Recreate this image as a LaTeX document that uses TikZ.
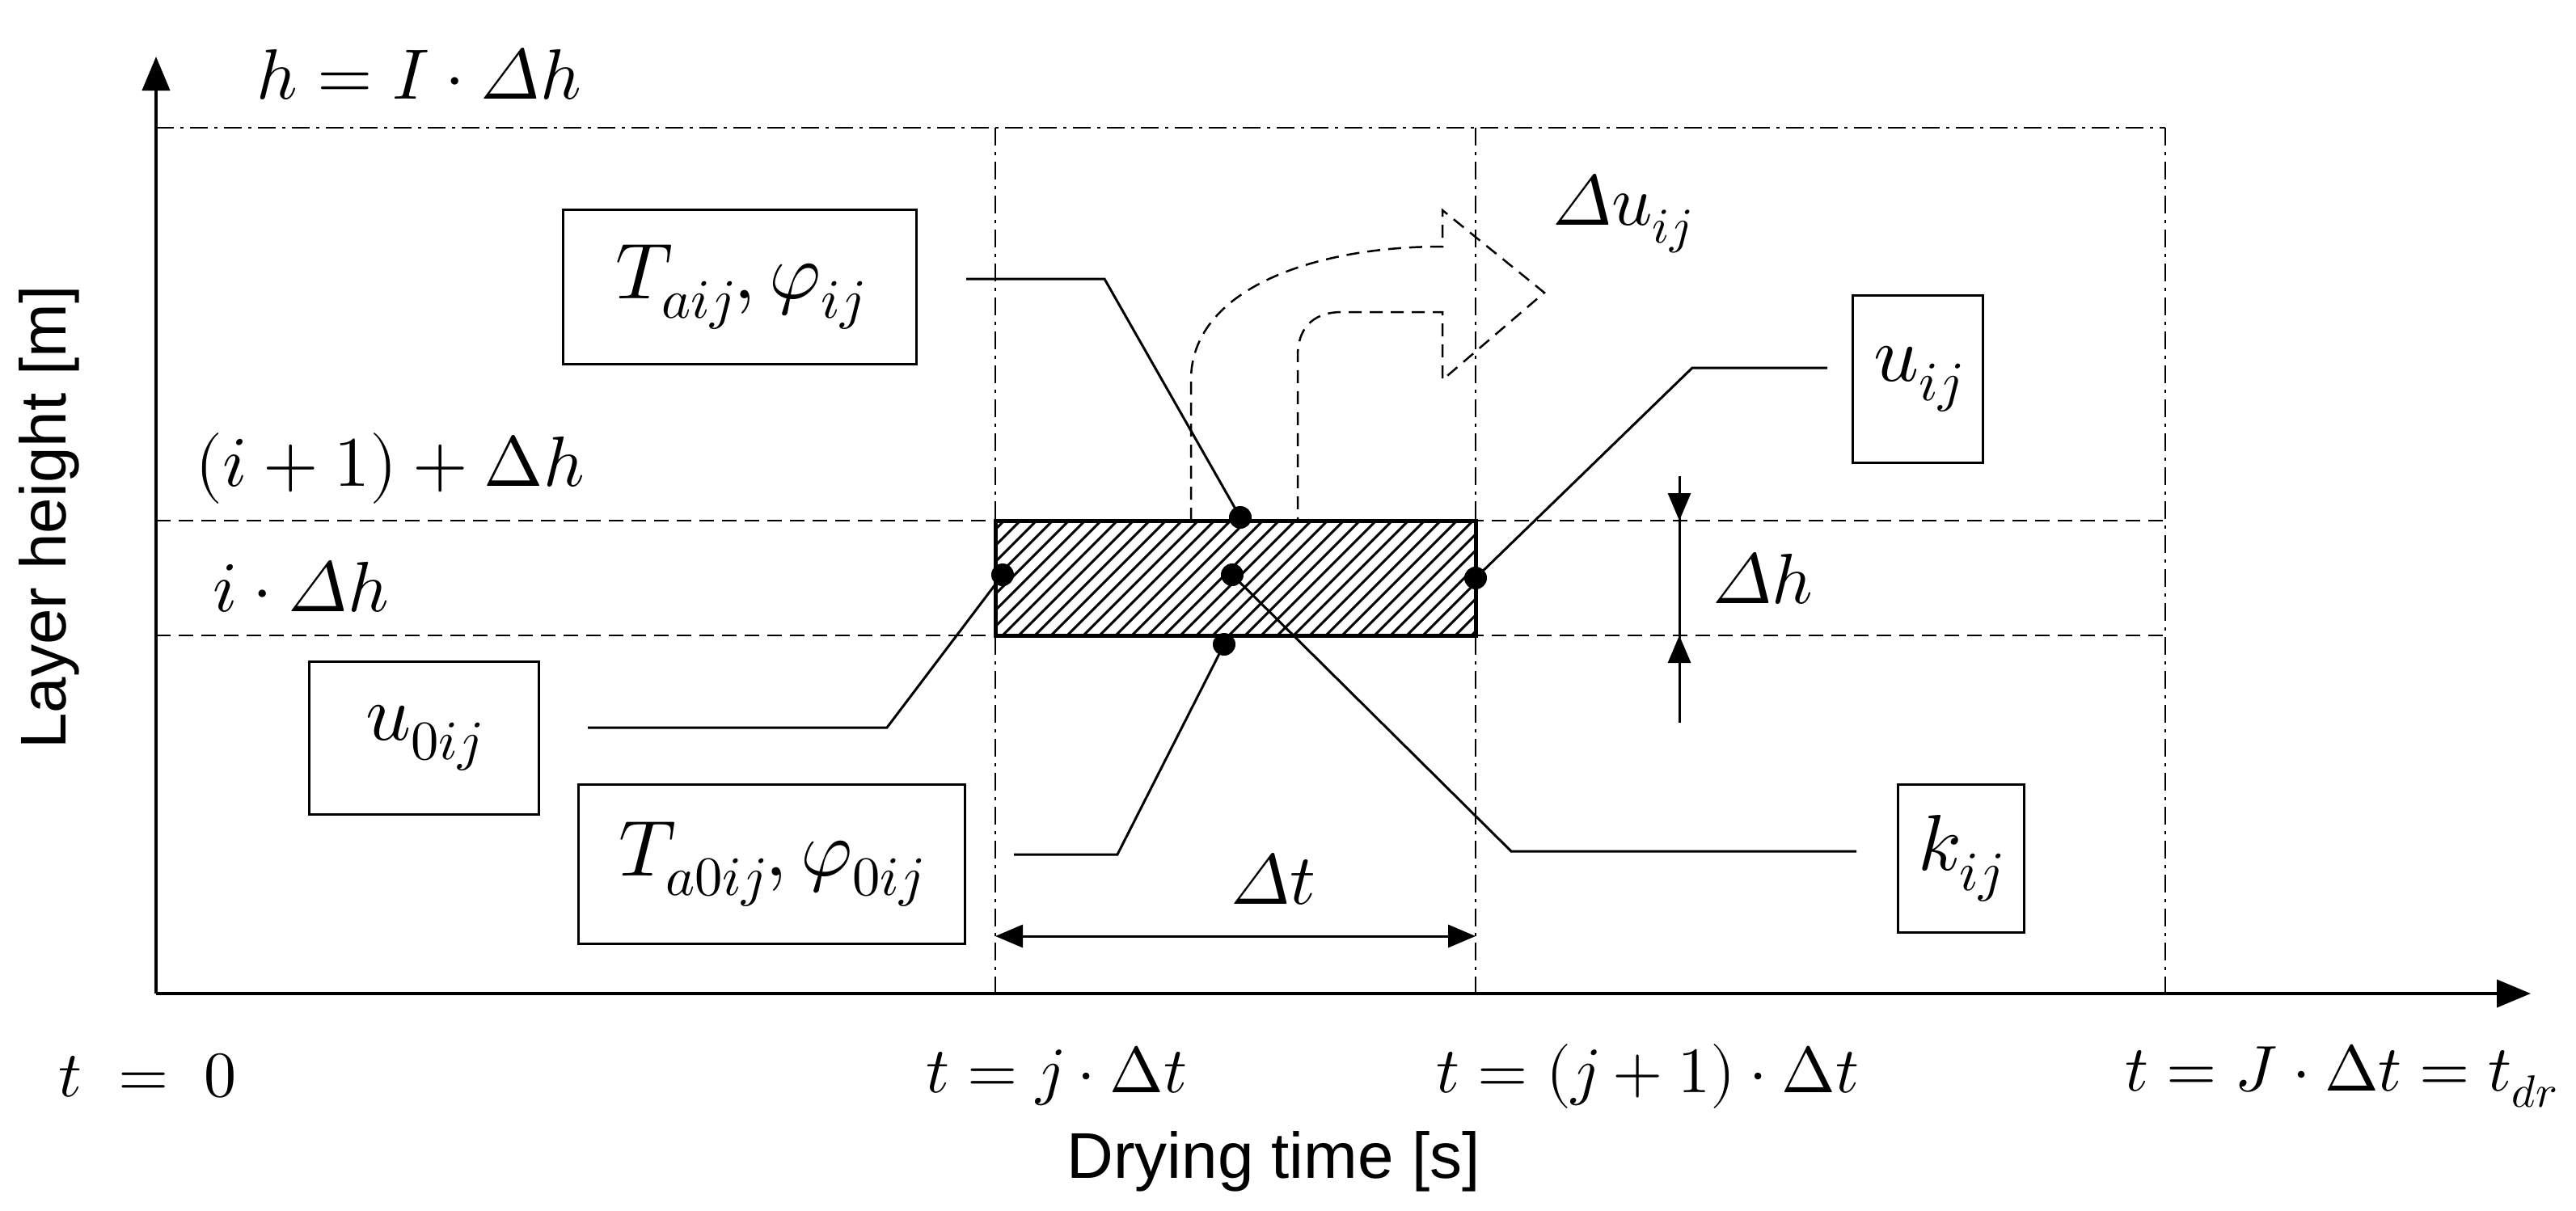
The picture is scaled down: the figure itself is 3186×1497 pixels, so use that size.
\documentclass[tikz,border=0pt]{standalone}
\usepackage{fontspec}
\usepackage{unicode-math}
\setmathfont{Latin Modern Math}
\setsansfont{Liberation Sans}
\usetikzlibrary{arrows.meta}
\newcommand{\iD}{\symit{\Delta}}
\begin{document}
\begin{tikzpicture}[x=1pt,y=-1pt,
  axis/.style={line width=4pt,-{Triangle[length=42pt,width=34pt]}},
  grid/.style={line width=2.5pt,dash pattern=on 22pt off 8pt on 4pt off 8pt},
  gridd/.style={line width=2.5pt,dash pattern=on 18pt off 10pt},
  lab/.style={inner sep=0pt,font=\fontsize{88}{90}\selectfont},
  tlab/.style={inner sep=0pt,font=\fontsize{80}{82}\selectfont},
  sans/.style={inner sep=0pt,font=\sffamily\fontsize{80}{84}\selectfont},
  mbox/.style={draw,line width=3pt,inner sep=0pt,font=\fontsize{98}{100}\selectfont},
  lead/.style={line width=3pt},
  dot/.style={circle,fill,inner sep=0pt,minimum size=28pt},
  dim/.style={line width=3pt,{Triangle[length=34pt,width=28pt]}-{Triangle[length=34pt,width=28pt]}}]
\useasboundingbox (0,0) rectangle (3186,1497);
\coordinate (O) at (193,1229);
\coordinate (Ytop) at (193,70);
\coordinate (Xend) at (3130,1229);
% grid
\draw[grid] (193,158) -- (2678,158);
\draw[grid] (1231,158) -- (1231,1229);
\draw[grid] (1825,158) -- (1825,1229);
\draw[grid] (2678,158) -- (2678,1229);
\draw[gridd] (193,644) -- (2678,644);
\draw[gridd] (193,786) -- (2678,786);
% hatched cell
\fill[white] (1231,644) rectangle (1825,786);
\begin{scope}
\clip (1231,644) rectangle (1825,786);
\foreach \i in {0,...,40} {\draw[line width=3pt] (1080+\i*20,786) -- ++(142,-142);}
\end{scope}
\draw[line width=5pt] (1231,644) rectangle (1825,786);
% axes
\draw[axis] (O) -- (Ytop);
\draw[axis] (O) -- (Xend);
% dashed arrow
\draw[line width=2.5pt,dash pattern=on 16pt off 10pt]
 (1473,644) -- (1473,470) .. controls (1473,360) and (1620,305) .. (1784,305) -- (1784,260) -- (1910,362) -- (1784,470) -- (1784,386) -- (1660,386) .. controls (1620,386) and (1605,410) .. (1605,440) -- (1605,644);
% dots
\node[dot] (dt) at (1534,640) {};
\node[dot] (dc) at (1524,711) {};
\node[dot] (db) at (1514,797) {};
\node[dot] (dl) at (1240,711) {};
\node[dot] (dr) at (1825,715) {};
% boxes
\node[mbox,minimum width=437pt,minimum height=191pt] (bT) at (915,355) {$T_{aij},\varphi_{ij}$};
\node[mbox,minimum width=284pt,minimum height=189pt] (bu0) at (524,913) {$u_{0ij}$};
\node[mbox,minimum width=478pt,minimum height=197pt] (bT0) at (954,1069) {$T_{a0ij},\varphi_{0ij}$};
\node[mbox,minimum width=161pt,minimum height=207pt] (bu) at (2372,469) {$u_{ij}$};
\node[mbox,minimum width=156pt,minimum height=183pt] (bk) at (2425,1062) {$k_{ij}$};
% leaders
\draw[lead] (1195,345) -- (1366,345) -- (dt.center);
\draw[lead] (727,900) -- (1097,900) -- (dl.center);
\draw[lead] (1254,1057) -- (1382,1057) -- (db.center);
\draw[lead] (2296,1053) -- (1869,1053) -- (dc.center);
\draw[lead] (2260,455) -- (2093,455) -- (dr.center);
% dimensions
\coordinate (dtl) at (1231,1158); \coordinate (dtr) at (1825,1158);
\draw[dim] (dtl) -- (dtr);
\node[lab] (ldt) at (1575,1087) {$\iD t$};
\coordinate (dh1) at (2077,589); \coordinate (dh2) at (2077,644);
\coordinate (dh3) at (2077,786); \coordinate (dh4) at (2077,894);
\draw[line width=3pt] (dh1) -- (dh4);
\draw[line width=3pt,-{Triangle[length=34pt,width=28pt]}] (dh1) -- (dh2);
\draw[line width=3pt,-{Triangle[length=34pt,width=28pt]}] (dh4) -- (dh3);
\node[lab] (ldh) at (2180,715) {$\iD h$};
% labels
\node[lab] (lh) at (518,91) {$h = I\cdot \iD h$};
\node[lab] (li1) at (482,579) {$(i+1)+\Delta h$};
\node[lab] (li) at (372,725) {$i\cdot \iD h$};
\node[lab] (ldu) at (2006,264) {$\iD u_{ij}$};
\node[tlab] (t0) at (183,1331) {$t\;=\;0$};
\node[tlab] (tj) at (1307,1331) {$t=j\cdot\Delta t$};
\node[tlab] (tj1) at (2038,1331) {$t=(j+1)\cdot\Delta t$};
\node[tlab] (tJ) at (2896,1331) {$t=J\cdot\Delta t=t_{dr}$};
\node[sans] (xl) at (1575,1437) {Drying time [s]};
\node[sans,rotate=90] (yl) at (61,640) {Layer height [m]};
\end{tikzpicture}
\end{document}
